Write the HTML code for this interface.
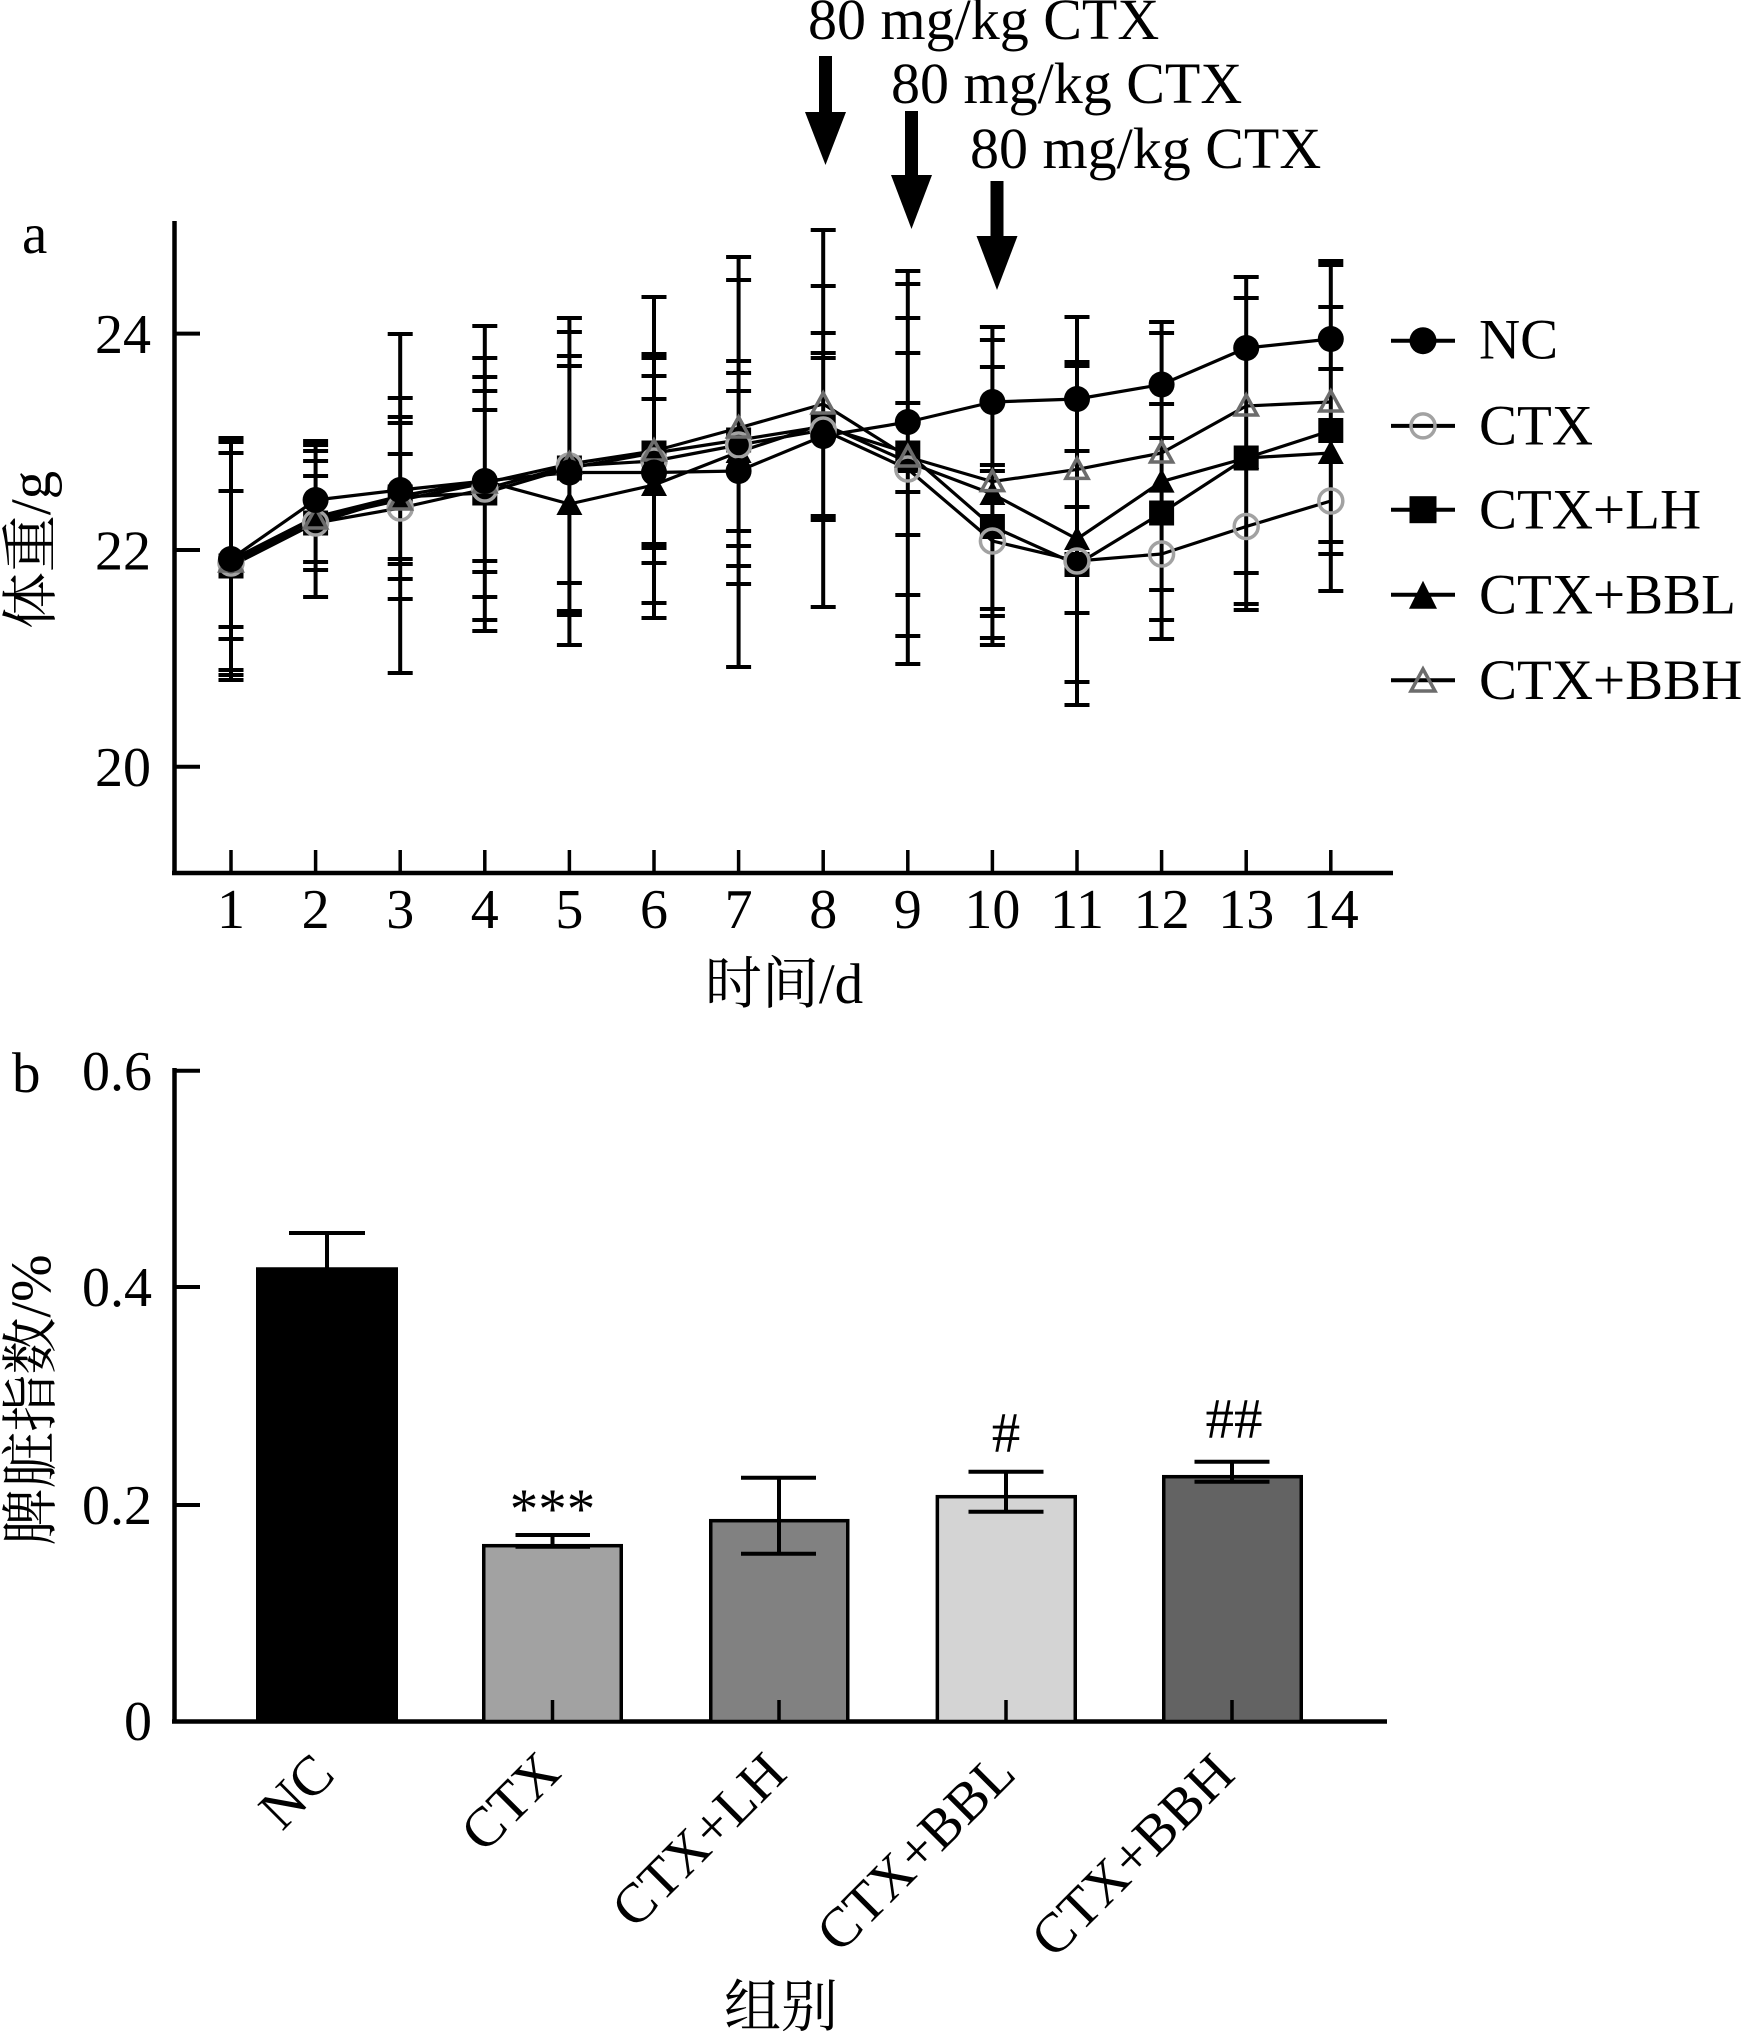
<!DOCTYPE html>
<html><head><meta charset="utf-8">
<style>
html,body{margin:0;padding:0;background:#fff;}
svg{display:block;}
text{font-family:"Liberation Serif","Noto Serif CJK SC",serif;fill:#000;}
.cjk{font-family:"Liberation Serif","Noto Serif CJK SC","Noto Sans CJK SC",serif;}
</style></head>
<body>
<svg width="1747" height="2036" viewBox="0 0 1747 2036" xmlns="http://www.w3.org/2000/svg">
<rect width="1747" height="2036" fill="#fff"/>

<!-- ===== Panel a ===== -->
<text x="22" y="253" font-size="57">a</text>

<!-- annotations -->
<text x="808" y="39" font-size="58">80 mg/kg CTX</text>
<text x="891" y="103" font-size="58">80 mg/kg CTX</text>
<text x="970" y="168" font-size="58">80 mg/kg CTX</text>
<g fill="#000">
<rect x="819" y="56" width="13" height="58"/><polygon points="805,112 846,112 825.5,165"/>
<rect x="905" y="111" width="13" height="66"/><polygon points="891,175 932,175 911.5,229"/>
<rect x="990.5" y="181" width="13" height="57"/><polygon points="976.5,236 1017.5,236 997,290"/>
</g>

<!-- axes -->
<g stroke="#000" fill="none">
<line x1="174.5" y1="221" x2="174.5" y2="875" stroke-width="4.5"/>
<line x1="172" y1="873" x2="1393" y2="873" stroke-width="4.5"/>
<path d="M174 333.6H200M174 550H200M174 766.8H200" stroke-width="4"/>
<path d="M231 850V873M315.6 850V873M400.2 850V873M484.8 850V873M569.4 850V873M654 850V873M738.6 850V873M823.2 850V873M907.8 850V873M992.4 850V873M1077 850V873M1161.6 850V873M1246.2 850V873M1330.8 850V873" stroke-width="3.5"/>
</g>
<g font-size="56" text-anchor="end">
<text x="151" y="353">24</text>
<text x="151" y="569.5">22</text>
<text x="151" y="786">20</text>
</g>
<g font-size="56" text-anchor="middle">
<text x="231" y="928">1</text><text x="315.6" y="928">2</text><text x="400.2" y="928">3</text><text x="484.8" y="928">4</text><text x="569.4" y="928">5</text><text x="654" y="928">6</text><text x="738.6" y="928">7</text><text x="823.2" y="928">8</text><text x="907.8" y="928">9</text><text x="992.4" y="928">10</text><text x="1077" y="928">11</text><text x="1161.6" y="928">12</text><text x="1246.2" y="928">13</text><text x="1330.8" y="928">14</text>
</g>
<text class="cjk" x="784" y="1003" font-size="57" text-anchor="middle">时间/d</text>
<text class="cjk" x="0" y="0" font-size="57" text-anchor="middle" transform="translate(50,550) rotate(-90)">体重/g</text>

<!-- error bars -->
<g stroke="#000" fill="none" stroke-width="4">
<path d="M231 438V680M315.6 441V597M400.2 334V673M484.8 326V631M569.4 318V645M654 297V618M738.6 257V667M823.2 230V607M907.8 271V664M992.4 327V645M1077 317V705M1161.6 322V639M1246.2 277V610M1330.8 261V591"/>
<path d="M218.5 438h25M218.5 442h25M218.5 453h25M218.5 491h25M218.5 627h25M218.5 639h25M218.5 670h25M218.5 675h25M218.5 680h25
M303.1 441h25M303.1 445h25M303.1 451h25M303.1 461h25M303.1 476h25M303.1 562h25M303.1 570h25M303.1 597h25
M387.7 334h25M387.7 398h25M387.7 417h25M387.7 423h25M387.7 454h25M387.7 559h25M387.7 564h25M387.7 579h25M387.7 599h25M387.7 673h25
M472.3 326h25M472.3 358h25M472.3 377h25M472.3 391h25M472.3 410h25M472.3 561h25M472.3 572h25M472.3 597h25M472.3 620h25M472.3 631h25
M556.9 318h25M556.9 332h25M556.9 356h25M556.9 366h25M556.9 583h25M556.9 611h25M556.9 615h25M556.9 645h25
M641.5 297h25M641.5 354h25M641.5 358h25M641.5 376h25M641.5 399h25M641.5 544h25M641.5 548h25M641.5 563h25M641.5 603h25M641.5 618h25
M726.1 257h25M726.1 280h25M726.1 361h25M726.1 373h25M726.1 391h25M726.1 531h25M726.1 546h25M726.1 566h25M726.1 584h25M726.1 667h25
M810.7 230h25M810.7 286h25M810.7 333h25M810.7 353h25M810.7 358h25M810.7 516h25M810.7 520h25M810.7 607h25
M895.3 271h25M895.3 284h25M895.3 318h25M895.3 353h25M895.3 403h25M895.3 492h25M895.3 535h25M895.3 595h25M895.3 636h25M895.3 664h25
M979.9 327h25M979.9 340h25M979.9 367h25M979.9 465h25M979.9 471h25M979.9 609h25M979.9 616h25M979.9 638h25M979.9 645h25
M1064.5 317h25M1064.5 362h25M1064.5 366h25M1064.5 451h25M1064.5 507h25M1064.5 613h25M1064.5 682h25M1064.5 705h25
M1149.1 322h25M1149.1 333h25M1149.1 404h25M1149.1 438h25M1149.1 590h25M1149.1 620h25M1149.1 639h25
M1233.7 277h25M1233.7 298h25M1233.7 573h25M1233.7 604h25M1233.7 610h25
M1318.3 261h25M1318.3 265h25M1318.3 307h25M1318.3 369h25M1318.3 542h25M1318.3 554h25M1318.3 591h25"/>
</g>

<!-- series lines -->
<g stroke="#000" fill="none" stroke-width="3.2" stroke-linejoin="round">
<polyline points="231,566 315.6,523 400.2,497 484.8,493 569.4,468 654,453 738.6,440 823.2,426.5 907.8,453 992.4,526.5 1077,564.5 1161.6,513 1246.2,458 1330.8,430.6"/>
<polyline points="231,560 315.6,517 400.2,496 484.8,481 569.4,504 654,485 738.6,452 823.2,424 907.8,462 992.4,494 1077,539 1161.6,481.6 1246.2,458 1330.8,453"/>
<polyline points="231,563 315.6,523 400.2,508 484.8,489 569.4,466 654,461 738.6,445 823.2,430 907.8,469 992.4,541 1077,561 1161.6,554 1246.2,526.5 1330.8,501"/>
<polyline points="231,562 315.6,519 400.2,500 484.8,483 569.4,464 654,451 738.6,428 823.2,404 907.8,457 992.4,481.6 1077,469.4 1161.6,453 1246.2,406 1330.8,402"/>
<polyline points="231,559 315.6,500 400.2,490 484.8,481 569.4,472.5 654,472.5 738.6,471 823.2,436 907.8,422 992.4,402 1077,399 1161.6,384.5 1246.2,348 1330.8,339"/>
</g>

<!-- LH squares -->
<g fill="#000">
<rect x="218.5" y="553.5" width="25" height="25"/><rect x="303.1" y="510.5" width="25" height="25"/><rect x="387.7" y="484.5" width="25" height="25"/><rect x="472.3" y="480.5" width="25" height="25"/><rect x="556.9" y="455.5" width="25" height="25"/><rect x="641.5" y="440.5" width="25" height="25"/><rect x="726.1" y="427.5" width="25" height="25"/><rect x="810.7" y="414" width="25" height="25"/><rect x="895.3" y="440.5" width="25" height="25"/><rect x="979.9" y="514" width="25" height="25"/><rect x="1064.5" y="552" width="25" height="25"/><rect x="1149.1" y="500.5" width="25" height="25"/><rect x="1233.7" y="445.5" width="25" height="25"/><rect x="1318.3" y="418" width="25" height="25"/>
</g>
<!-- BBL triangles -->
<g fill="#000">
<polygon points="231,547 218,571 244,571"/><polygon points="315.6,504 302.6,528 328.6,528"/><polygon points="400.2,483 387.2,507 413.2,507"/><polygon points="484.8,468 471.8,492 497.8,492"/><polygon points="569.4,491 556.4,515 582.4,515"/><polygon points="654,472 641,496 667,496"/><polygon points="738.6,439 725.6,463 751.6,463"/><polygon points="823.2,411 810.2,435 836.2,435"/><polygon points="907.8,449 894.8,473 920.8,473"/><polygon points="992.4,481 979.4,505 1005.4,505"/><polygon points="1077,526 1064,550 1090,550"/><polygon points="1161.6,468.6 1148.6,492.6 1174.6,492.6"/><polygon points="1246.2,445 1233.2,469 1259.2,469"/><polygon points="1330.8,440 1317.8,464 1343.8,464"/>
</g>
<!-- CTX open circles -->
<g fill="none" stroke="#a2a2a2" stroke-width="3.5">
<circle cx="231" cy="563" r="12"/><circle cx="315.6" cy="523" r="12"/><circle cx="400.2" cy="508" r="12"/><circle cx="484.8" cy="489" r="12"/><circle cx="569.4" cy="466" r="12"/><circle cx="654" cy="461" r="12"/><circle cx="738.6" cy="445" r="12"/><circle cx="823.2" cy="430" r="12"/><circle cx="907.8" cy="469" r="12"/><circle cx="992.4" cy="541" r="12"/><circle cx="1077" cy="561" r="12"/><circle cx="1161.6" cy="554" r="12"/><circle cx="1246.2" cy="526.5" r="12"/><circle cx="1330.8" cy="501" r="12"/>
</g>
<!-- BBH open triangles -->
<g fill="none" stroke="#6c6c6c" stroke-width="3.5" stroke-linejoin="miter">
<polygon points="231,551 220,571 242,571"/><polygon points="315.6,508 304.6,528 326.6,528"/><polygon points="400.2,489 389.2,509 411.2,509"/><polygon points="484.8,472 473.8,492 495.8,492"/><polygon points="569.4,453 558.4,473 580.4,473"/><polygon points="654,440 643,460 665,460"/><polygon points="738.6,417 727.6,437 749.6,437"/><polygon points="823.2,393 812.2,413 834.2,413"/><polygon points="907.8,446 896.8,466 918.8,466"/><polygon points="992.4,470.6 981.4,490.6 1003.4,490.6"/><polygon points="1077,458.4 1066,478.4 1088,478.4"/><polygon points="1161.6,442 1150.6,462 1172.6,462"/><polygon points="1246.2,395 1235.2,415 1257.2,415"/><polygon points="1330.8,391 1319.8,411 1341.8,411"/>
</g>
<!-- NC filled circles -->
<g fill="#000">
<circle cx="231" cy="559" r="13"/><circle cx="315.6" cy="500" r="13"/><circle cx="400.2" cy="490" r="13"/><circle cx="484.8" cy="481" r="13"/><circle cx="569.4" cy="472.5" r="13"/><circle cx="654" cy="472.5" r="13"/><circle cx="738.6" cy="471" r="13"/><circle cx="823.2" cy="436" r="13"/><circle cx="907.8" cy="422" r="13"/><circle cx="992.4" cy="402" r="13"/><circle cx="1077" cy="399" r="13"/><circle cx="1161.6" cy="384.5" r="13"/><circle cx="1246.2" cy="348" r="13"/><circle cx="1330.8" cy="339" r="13"/>
</g>

<!-- legend -->
<g stroke="#000" stroke-width="4">
<path d="M1391 340.7H1455M1391 425.9H1455M1391 509.7H1455M1391 594.8H1455M1391 680.3H1455"/>
</g>
<circle cx="1423" cy="340.7" r="13.5" fill="#000"/>
<circle cx="1423" cy="425.9" r="12" fill="none" stroke="#a2a2a2" stroke-width="3.5"/>
<rect x="1409.5" y="496.2" width="27" height="27" fill="#000"/>
<polygon points="1423,580.8 1409,608.8 1437,608.8" fill="#000"/>
<polygon points="1423,669 1411,691 1435,691" fill="none" stroke="#6c6c6c" stroke-width="3.5"/>
<g font-size="57">
<text x="1479" y="358.5">NC</text>
<text x="1479" y="444.5">CTX</text>
<text x="1479" y="528.5">CTX+LH</text>
<text x="1479" y="613.5">CTX+BBL</text>
<text x="1479" y="699">CTX+BBH</text>
</g>

<!-- ===== Panel b ===== -->
<text x="12" y="1092" font-size="57">b</text>
<g stroke="#000" fill="none">
<line x1="174.5" y1="1068" x2="174.5" y2="1723.5" stroke-width="4.5"/>
<line x1="172" y1="1721.5" x2="1387" y2="1721.5" stroke-width="4.5"/>
<path d="M174 1070.7H200M174 1287H200M174 1505H200" stroke-width="4"/>
</g>
<g font-size="56" text-anchor="end">
<text x="152" y="1090">0.6</text>
<text x="152" y="1306">0.4</text>
<text x="152" y="1524">0.2</text>
<text x="152" y="1740">0</text>
</g>
<text class="cjk" x="0" y="0" font-size="57" text-anchor="middle" transform="translate(50,1400) rotate(-90)">脾脏指数/%</text>

<!-- bars -->
<g stroke="#000" stroke-width="3.5">
<rect x="257.75" y="1269" width="138.5" height="452.5" fill="#000"/>
<rect x="483.75" y="1545.7" width="137.5" height="175.8" fill="#a2a2a2"/>
<rect x="710.75" y="1520.7" width="137" height="200.8" fill="#818181"/>
<rect x="937.35" y="1496.7" width="137.9" height="224.8" fill="#d4d4d4"/>
<rect x="1163.75" y="1476.7" width="137.5" height="244.8" fill="#636363"/>
</g>
<!-- x ticks -->
<g stroke="#000" stroke-width="3.5">
<path d="M327 1700V1721M552.5 1700V1721M779 1700V1721M1006 1700V1721M1232 1700V1721"/>
</g>
<!-- error bars -->
<g stroke="#000" stroke-width="4" fill="none">
<path d="M327 1233V1269M289 1233H365"/>
<path d="M552.5 1535V1547M515.5 1535H590M515.5 1546.7H590"/>
<path d="M779 1477.7V1553.7M741 1477.7H816M741 1553.7H816"/>
<path d="M1006 1471.7V1511.7M968.5 1471.7H1043.5M968.5 1511.7H1043.5"/>
<path d="M1232 1461.7V1481.7M1194.5 1461.7H1269.5M1194.5 1481.7H1269.5"/>
</g>
<g font-size="57" text-anchor="middle">
<text x="552.5" y="1528">***</text>
<text x="1006" y="1452">#</text>
<text x="1234" y="1438">##</text>
</g>
<g font-size="56" text-anchor="end">
<text transform="translate(337,1777) rotate(-45)">NC</text>
<text transform="translate(563,1775) rotate(-45)">CTX</text>
<text transform="translate(789,1776) rotate(-45)">CTX+LH</text>
<text transform="translate(1018,1776) rotate(-45)">CTX+BBL</text>
<text transform="translate(1237,1777) rotate(-45)">CTX+BBH</text>
</g>
<text class="cjk" x="781" y="2026" font-size="57" text-anchor="middle">组别</text>
</svg>
</body></html>
